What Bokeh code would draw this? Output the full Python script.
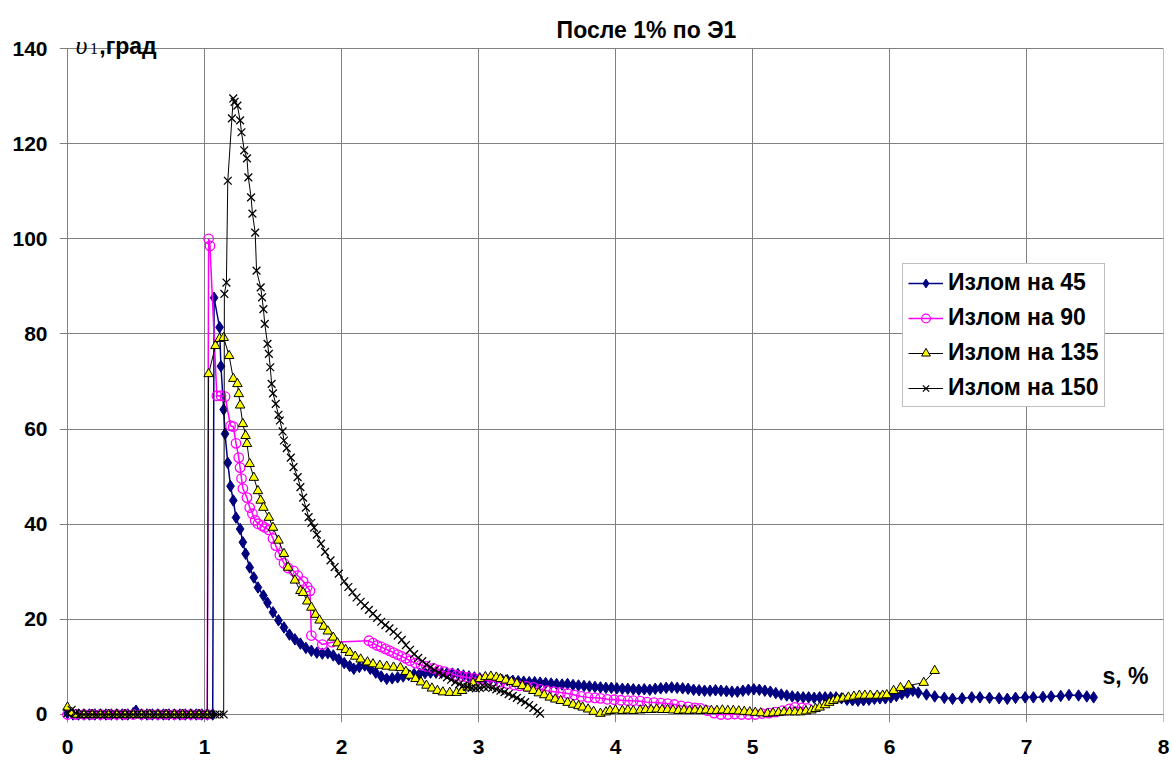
from bokeh.plotting import figure
from bokeh.models import Range1d, LinearAxis, FixedTicker, Grid, Label, Legend, LegendItem
from bokeh.embed import file_html
from bokeh.resources import INLINE

X_TICKS = [0, 1, 2, 3, 4, 5, 6, 7, 8]
Y_TICKS = [0, 20, 40, 60, 80, 100, 120, 140]
TITLE = "После 1% по Э1"
X_NAME = "s, %"
NAMES = ["Излом на 45", "Излом на 90", "Излом на 135", "Излом на 150"]

# (s, %) -> (angle, deg) pairs
PTS_45 = [
    (0.00, 0.3), (0.04, 0), (0.08, 0), (0.12, 0), (0.16, 0), (0.20, 0), (0.24, 0), (0.28, 0),
    (0.32, 0), (0.36, 0), (0.40, 0), (0.44, 0), (0.48, 0.3), (0.50, 0.8), (0.54, 0), (0.58, 0),
    (0.62, 0), (0.66, 0), (0.70, 0), (0.74, 0), (0.78, 0), (0.82, 0), (0.86, 0), (0.90, 0),
    (0.94, 0), (0.98, 0), (1.02, 0), (1.06, 0),
    (1.07, 87.6), (1.11, 81.4), (1.12, 73.2), (1.14, 64.1), (1.15, 59.0), (1.17, 52.9),
    (1.19, 48.0), (1.21, 45.0), (1.23, 41.4), (1.26, 39.0), (1.28, 36.2), (1.30, 33.8),
    (1.33, 30.9), (1.36, 28.8), (1.39, 26.7), (1.43, 25.0), (1.46, 23.5), (1.50, 21.5),
    (1.54, 19.8), (1.58, 18.3), (1.62, 16.8), (1.66, 15.8), (1.70, 14.9), (1.74, 14.0),
    (1.78, 13.4), (1.82, 13.0), (1.86, 12.8), (1.90, 12.9), (1.94, 12.4), (1.98, 11.6),
    (2.02, 10.8), (2.06, 10.2), (2.09, 9.6), (2.13, 10.0), (2.17, 10.3), (2.21, 9.6),
    (2.25, 8.8), (2.29, 8.0), (2.33, 7.5), (2.37, 7.6), (2.41, 7.8), (2.45, 8.0),
    (2.49, 8.3), (2.53, 8.5), (2.57, 8.6), (2.61, 8.7), (2.65, 8.8), (2.69, 8.8),
    (2.73, 8.8), (2.77, 8.7), (2.81, 8.6), (2.85, 8.5), (2.89, 8.2), (2.93, 8.0),
    (2.97, 7.8), (3.01, 7.6), (3.05, 7.6), (3.09, 7.5), (3.13, 7.4), (3.17, 7.3),
    (3.21, 7.2), (3.25, 7.1), (3.29, 7.0), (3.33, 6.9), (3.37, 6.8), (3.41, 6.8),
    (3.45, 6.7), (3.49, 6.6), (3.53, 6.5), (3.57, 6.4), (3.61, 6.3), (3.65, 6.4),
    (3.69, 6.2), (3.73, 6.1), (3.77, 6.0), (3.81, 5.9), (3.85, 5.8), (3.89, 5.7),
    (3.93, 5.6), (3.97, 5.6), (4.01, 5.5), (4.05, 5.4), (4.09, 5.4), (4.13, 5.3),
    (4.17, 5.2), (4.21, 5.3), (4.25, 5.2), (4.29, 5.4), (4.33, 5.5), (4.37, 5.6),
    (4.41, 5.7), (4.45, 5.6), (4.49, 5.5), (4.53, 5.4), (4.57, 5.2), (4.61, 5.1),
    (4.65, 5.0), (4.69, 5.0), (4.73, 5.1), (4.77, 5.0), (4.81, 4.9), (4.85, 4.8),
    (4.89, 4.8), (4.93, 5.0), (4.97, 5.2), (5.01, 5.3), (5.05, 5.2), (5.09, 5.0),
    (5.13, 4.8), (5.17, 4.5), (5.21, 4.2), (5.25, 4.0), (5.29, 3.8), (5.33, 3.7),
    (5.37, 3.6), (5.41, 3.6), (5.45, 3.5), (5.49, 3.6), (5.53, 3.6), (5.57, 3.6),
    (5.61, 3.6), (5.65, 3.4), (5.69, 3.1), (5.73, 3.0), (5.77, 2.9), (5.81, 3.0),
    (5.85, 3.1), (5.89, 3.3), (5.93, 3.4), (5.97, 3.4), (6.01, 3.6), (6.05, 3.9),
    (6.09, 4.3), (6.13, 4.6), (6.17, 5.0), (6.21, 4.6), (6.27, 4.2), (6.33, 3.8),
    (6.40, 3.5), (6.46, 3.3), (6.53, 3.4), (6.60, 3.6), (6.66, 3.6), (6.73, 3.5),
    (6.80, 3.4), (6.86, 3.3), (6.92, 3.5), (6.99, 3.6), (7.05, 3.6), (7.12, 3.7),
    (7.18, 3.8), (7.25, 3.9), (7.31, 4.1), (7.38, 4.0), (7.44, 3.8), (7.49, 3.6),
]

PTS_90 = [
    (0.00, 0), (0.06, 0), (0.12, 0), (0.18, 0), (0.24, 0), (0.30, 0), (0.36, 0), (0.42, 0),
    (0.48, 0), (0.54, 0), (0.60, 0), (0.66, 0), (0.72, 0), (0.78, 0), (0.84, 0), (0.90, 0),
    (0.96, 0), (1.02, 0),
    (1.03, 100.0), (1.04, 98.5), (1.09, 67.0), (1.12, 67.0), (1.15, 66.8), (1.19, 60.7),
    (1.21, 60.5), (1.23, 57.0), (1.25, 54.0), (1.26, 51.9), (1.27, 49.6), (1.28, 47.5),
    (1.31, 45.6), (1.33, 43.5), (1.35, 42.2), (1.37, 40.8), (1.39, 40.1), (1.42, 39.7),
    (1.44, 39.3), (1.47, 38.8), (1.50, 37.0), (1.52, 35.5), (1.55, 33.5), (1.58, 31.8),
    (1.61, 30.8), (1.65, 30.2), (1.68, 29.2), (1.72, 28.0), (1.75, 26.8), (1.77, 26.0),
    (1.78, 16.6), (1.86, 14.7), (1.93, 15.2), (2.20, 15.5), (2.23, 15.0), (2.26, 14.5),
    (2.29, 14.2), (2.32, 13.8), (2.35, 13.4), (2.38, 13.0), (2.41, 12.6), (2.44, 12.2),
    (2.47, 11.8), (2.50, 11.3), (2.54, 10.8), (2.58, 10.4), (2.62, 10.1), (2.67, 9.7),
    (2.71, 9.3), (2.75, 9.0), (2.80, 8.6), (2.84, 8.2), (2.88, 8.0), (2.92, 7.8),
    (2.97, 7.6), (3.01, 7.5), (3.06, 7.2), (3.11, 7.0), (3.16, 6.8), (3.21, 6.5),
    (3.26, 6.2), (3.30, 6.0), (3.35, 5.9), (3.40, 5.7), (3.45, 5.3), (3.50, 5.0),
    (3.55, 4.8), (3.60, 4.6), (3.65, 4.4), (3.70, 4.1), (3.75, 3.8), (3.80, 3.6),
    (3.85, 3.5), (3.89, 3.4), (3.94, 3.2), (3.99, 3.1), (4.04, 3.0), (4.09, 2.9),
    (4.13, 2.9), (4.18, 2.8), (4.23, 2.6), (4.28, 2.5), (4.33, 2.4), (4.38, 2.3),
    (4.43, 2.1), (4.48, 1.8), (4.53, 1.6), (4.58, 1.4), (4.62, 1.3), (4.67, 0.8),
    (4.72, 0.3), (4.77, 0.0), (4.82, 0.0), (4.87, 0.1), (4.92, 0.0), (4.97, 0.0),
    (5.02, 0.0), (5.07, 0.2), (5.12, 0.3), (5.17, 0.5), (5.22, 0.8), (5.27, 1.2),
    (5.31, 1.5), (5.36, 1.4), (5.40, 1.3),
]

PTS_135 = [
    (0.00, 1.5), (0.03, 0.4), (0.06, 0), (0.12, 0), (0.18, 0), (0.24, 0), (0.30, 0), (0.36, 0),
    (0.42, 0), (0.48, 0), (0.54, 0), (0.60, 0), (0.66, 0), (0.72, 0), (0.78, 0), (0.84, 0),
    (0.90, 0), (0.96, 0), (1.02, 0),
    (1.03, 71.6), (1.08, 77.5), (1.11, 79.0), (1.14, 79.2), (1.18, 75.4), (1.21, 70.6),
    (1.24, 69.5), (1.25, 67.4), (1.26, 65.0), (1.28, 61.1), (1.30, 58.6), (1.31, 56.9),
    (1.33, 52.7), (1.36, 49.8), (1.39, 47.0), (1.41, 45.0), (1.43, 43.5), (1.47, 41.4),
    (1.50, 39.3), (1.54, 36.6), (1.58, 33.8), (1.61, 30.9), (1.66, 28.2), (1.70, 26.0),
    (1.72, 25.6), (1.75, 23.8), (1.78, 22.5), (1.81, 21.0), (1.84, 19.8), (1.87, 18.5),
    (1.90, 17.5), (1.94, 16.2), (1.97, 15.0), (2.00, 14.2), (2.03, 13.6), (2.06, 13.0),
    (2.10, 12.2), (2.14, 11.6), (2.19, 11.0), (2.23, 10.6), (2.28, 10.3), (2.33, 10.1),
    (2.38, 9.9), (2.43, 9.8), (2.47, 9.0), (2.50, 8.2), (2.54, 7.5), (2.58, 6.8),
    (2.62, 6.1), (2.66, 5.5), (2.70, 5.0), (2.74, 4.7), (2.79, 4.6), (2.84, 4.6),
    (2.88, 5.0), (2.92, 5.7), (2.96, 6.6), (3.01, 7.5), (3.05, 7.9), (3.09, 8.0),
    (3.13, 7.8), (3.16, 7.5), (3.20, 7.2), (3.24, 6.9), (3.28, 6.5), (3.32, 6.0),
    (3.36, 5.5), (3.40, 5.0), (3.44, 4.5), (3.48, 4.1), (3.52, 3.6), (3.56, 3.2),
    (3.60, 2.9), (3.65, 2.5), (3.69, 2.1), (3.73, 1.8), (3.76, 1.5), (3.80, 1.1),
    (3.84, 0.6), (3.89, 0.2), (3.93, 0.5), (3.96, 0.8), (4.00, 0.9), (4.05, 0.8),
    (4.09, 0.9), (4.13, 0.8), (4.18, 0.9), (4.22, 1.0), (4.26, 1.0), (4.30, 1.1),
    (4.34, 1.0), (4.38, 1.0), (4.42, 0.9), (4.46, 0.8), (4.50, 0.9), (4.54, 0.8),
    (4.58, 0.9), (4.62, 0.8), (4.66, 0.9), (4.70, 0.8), (4.74, 0.8), (4.78, 0.9),
    (4.82, 0.8), (4.86, 0.8), (4.90, 0.7), (4.94, 0.6), (4.98, 0.5), (5.02, 0.4),
    (5.06, 0.3), (5.11, 0.2), (5.15, 0.3), (5.19, 0.4), (5.23, 0.5), (5.27, 0.5),
    (5.31, 0.5), (5.35, 0.5), (5.39, 0.7), (5.43, 0.9), (5.46, 1.2), (5.49, 1.5),
    (5.53, 2.0), (5.56, 2.5), (5.59, 2.9), (5.62, 3.2), (5.66, 3.4), (5.70, 3.6),
    (5.74, 3.8), (5.78, 4.0), (5.82, 4.0), (5.86, 4.0), (5.91, 4.0), (5.95, 4.0),
    (5.98, 4.1), (6.03, 5.0), (6.08, 5.6), (6.14, 6.1), (6.25, 6.7), (6.33, 9.2),
]

PTS_150 = [
    (0.00, 0.3), (0.03, 1.0), (0.06, 0.3), (0.09, 0), (0.12, 0), (0.15, 0), (0.18, 0), (0.21, 0),
    (0.24, 0), (0.27, 0), (0.30, 0), (0.33, 0), (0.36, 0), (0.39, 0), (0.42, 0), (0.45, 0),
    (0.48, 0), (0.51, 0), (0.54, 0), (0.57, 0), (0.60, 0), (0.63, 0), (0.66, 0), (0.69, 0),
    (0.72, 0), (0.75, 0), (0.78, 0), (0.81, 0), (0.84, 0), (0.87, 0), (0.90, 0), (0.93, 0),
    (0.96, 0), (0.99, 0), (1.02, 0), (1.05, 0), (1.08, 0), (1.11, 0), (1.14, 0),
    (1.145, 88.4), (1.16, 90.8), (1.17, 112.2), (1.20, 125.3), (1.21, 129.5), (1.22, 128.8),
    (1.24, 128.0), (1.26, 124.9), (1.27, 122.4), (1.29, 118.6), (1.31, 116.9), (1.32, 112.9),
    (1.34, 108.7), (1.35, 105.3), (1.37, 101.3), (1.38, 93.3), (1.41, 89.8), (1.42, 87.7),
    (1.43, 85.2), (1.44, 82.1), (1.46, 77.9), (1.47, 75.8), (1.48, 73.0), (1.49, 69.5),
    (1.50, 67.5), (1.52, 65.3), (1.54, 63.0), (1.55, 61.8), (1.57, 59.5), (1.58, 57.6),
    (1.60, 56.0), (1.63, 54.0), (1.65, 52.0), (1.68, 49.9), (1.70, 47.8), (1.72, 45.6),
    (1.74, 43.5), (1.76, 41.5), (1.78, 40.3), (1.80, 39.3), (1.82, 37.8), (1.85, 35.9),
    (1.88, 34.2), (1.92, 32.4), (1.95, 31.0), (1.98, 29.6), (2.02, 28.0), (2.05, 26.8),
    (2.08, 25.7), (2.11, 24.6), (2.14, 23.7), (2.17, 22.9), (2.20, 22.0), (2.23, 21.2),
    (2.26, 20.3), (2.29, 19.5), (2.32, 18.8), (2.35, 18.1), (2.38, 17.4), (2.41, 16.6),
    (2.44, 15.7), (2.47, 14.6), (2.50, 13.6), (2.53, 12.7), (2.56, 11.9), (2.59, 11.2),
    (2.62, 10.5), (2.65, 9.9), (2.68, 9.3), (2.71, 8.8), (2.74, 8.3), (2.77, 7.8),
    (2.80, 7.3), (2.83, 6.8), (2.86, 6.4), (2.89, 6.1), (2.92, 5.8), (2.95, 5.6),
    (2.98, 5.5), (3.01, 5.6), (3.04, 5.8), (3.07, 5.8), (3.10, 5.6), (3.13, 5.3),
    (3.16, 5.0), (3.19, 4.7), (3.22, 4.3), (3.25, 3.9), (3.28, 3.5), (3.31, 3.0),
    (3.34, 2.6), (3.37, 2.0), (3.40, 1.4), (3.43, 0.7), (3.45, 0.2),
]


def split(pts):
    return [a for a, b in pts], [b for a, b in pts]


s45, v45 = split(PTS_45)
s90, v90 = split(PTS_90)
s135, v135 = split(PTS_135)
s150, v150 = split(PTS_150)

FONT = "Liberation Sans"
GRID = "#808080"
NAVY = "#000080"
MAG = "#FF00FF"
YEL = "#FFFF00"

# frame spans the whole canvas height above the x labels; y = 140 lies 48 px below the top
Y_PX = 4.757          # pixels per degree
Y_LOW = -8 / Y_PX     # 8 px below zero (tick stubs)
Y_HIGH = 140 + 48 / Y_PX
X_LOW = -8 / 137.0

p = figure(width=1172, height=763, output_backend="svg", toolbar_location=None, title=None,
           x_range=Range1d(X_LOW, 8), y_range=Range1d(Y_LOW, Y_HIGH),
           x_axis_type=None, y_axis_type=None,
           min_border_left=59, min_border_right=9, min_border_top=0, min_border_bottom=41)
p.outline_line_color = None
p.background_fill_color = "white"
p.border_fill_color = "white"

xt = FixedTicker(ticks=X_TICKS)
yt = FixedTicker(ticks=Y_TICKS)

xaxis = LinearAxis(ticker=xt, axis_line_color=None, major_tick_line_color=None,
                   minor_tick_line_color=None, major_tick_in=0, major_tick_out=0,
                   major_label_standoff=17, major_label_text_font=FONT,
                   major_label_text_font_style="bold", major_label_text_font_size="21px",
                   major_label_text_color="black")
yaxis = LinearAxis(ticker=yt, axis_line_color=None, major_tick_line_color=None,
                   minor_tick_line_color=None, major_tick_in=0, major_tick_out=0,
                   major_label_standoff=12, major_label_text_font=FONT,
                   major_label_text_font_style="bold", major_label_text_font_size="21px",
                   major_label_text_color="black")
p.add_layout(xaxis, "below")
p.add_layout(yaxis, "left")
p.add_layout(Grid(dimension=1, ticker=yt, grid_line_color=GRID, grid_line_width=1))
# vertical grid lines, only up to 140
p.segment(x0=X_TICKS, y0=[Y_LOW] * len(X_TICKS), x1=X_TICKS, y1=[Y_TICKS[-1]] * len(X_TICKS),
          line_color=GRID, line_width=1, level="underlay")

l45 = p.line(s45, v45, line_color=NAVY, line_width=1.5)
m45 = p.scatter(s45, v45, marker="diamond", size=11.5, fill_color=NAVY, line_color=NAVY)
l90 = p.line(s90, v90, line_color=MAG, line_width=1.5)
m90 = p.scatter(s90, v90, marker="circle", size=9.5, fill_color=None,
                line_color=MAG, line_width=1.3)
l135 = p.line(s135, v135, line_color="black", line_width=1)
m135 = p.scatter(s135, v135, marker="triangle", size=9.5, fill_color=YEL,
                 line_color="black", line_width=1)
l150 = p.line(s150, v150, line_color="black", line_width=1)
m150 = p.scatter(s150, v150, marker="x", size=11, line_color="black", line_width=1.3)

legend = Legend(items=[
    LegendItem(label=NAMES[0], renderers=[l45, m45]),
    LegendItem(label=NAMES[1], renderers=[l90, m90]),
    LegendItem(label=NAMES[2], renderers=[l135, m135]),
    LegendItem(label=NAMES[3], renderers=[l150, m150]),
], location=(843, 315), orientation="vertical",
    label_text_font=FONT, label_text_font_style="bold", label_text_font_size="23px",
    label_text_color="black", glyph_width=35, glyph_height=22, label_height=22,
    label_standoff=5, spacing=8, padding=5, margin=0,
    border_line_color=GRID, border_line_width=1, background_fill_color="white",
    background_fill_alpha=1.0)
p.add_layout(legend)

p.add_layout(Label(x=4.226, y=143.8, text=TITLE, text_align="center", text_baseline="middle",
                   text_font=FONT, text_font_style="bold", text_font_size="23px",
                   text_color="black"))
p.add_layout(Label(x=0.058, y=140.6, text="υ", text_align="left", text_baseline="alphabetic",
                   text_font="Liberation Serif", text_font_style="italic", text_font_size="26px",
                   text_color="black"))
p.add_layout(Label(x=0.165, y=139.9, text="1", text_align="left", text_baseline="alphabetic",
                   text_font="Liberation Serif", text_font_size="16px", text_color="black"))
p.add_layout(Label(x=0.232, y=140.6, text=",град", text_align="left", text_baseline="alphabetic",
                   text_font=FONT, text_font_style="bold", text_font_size="23px",
                   text_color="black"))
p.add_layout(Label(x=7.555, y=8.0, text=X_NAME, text_align="left", text_baseline="middle",
                   text_font=FONT, text_font_style="bold", text_font_size="23px",
                   text_color="black"))

open("out.html", "w").write(file_html(p, INLINE))
